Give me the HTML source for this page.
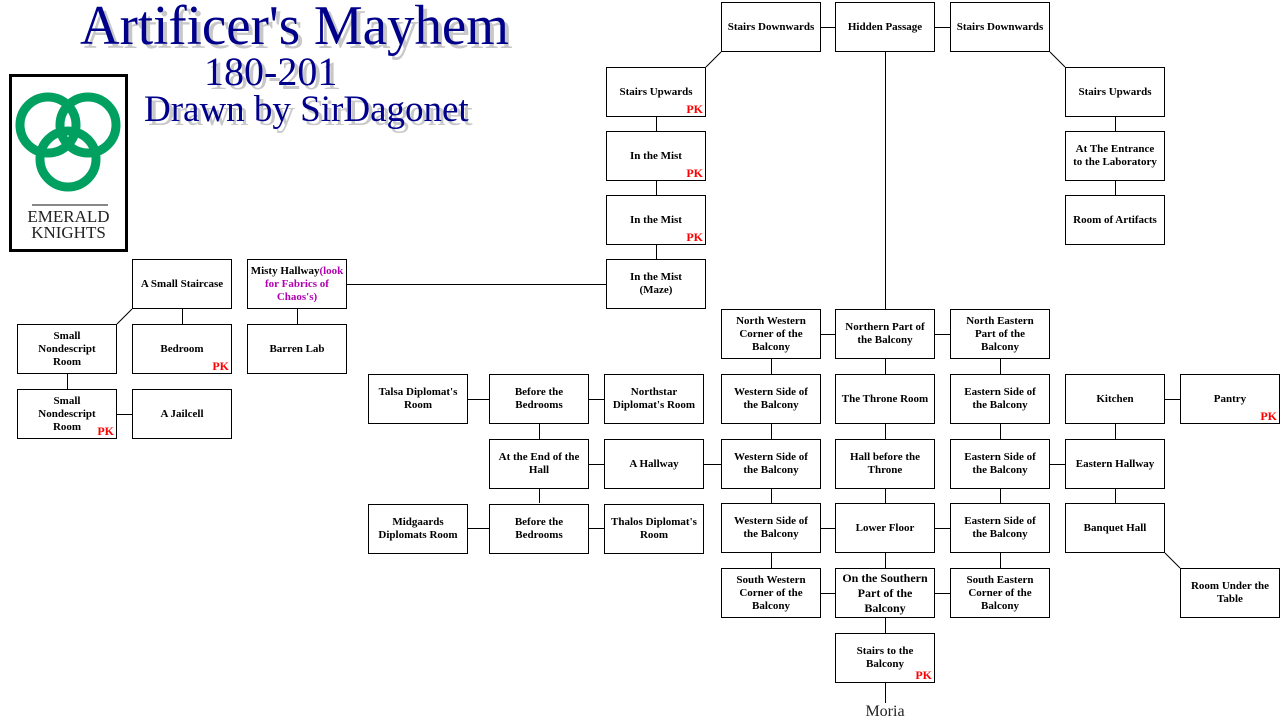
<!DOCTYPE html>
<html><head><meta charset="utf-8"><style>
body{margin:0;width:1284px;height:722px;background:#fff;position:relative;overflow:hidden;font-family:"Liberation Serif",serif}
.b{position:absolute;width:100px;height:50px;box-sizing:border-box;border:1px solid #000;background:#fff;display:flex;align-items:center;justify-content:center;text-align:center;font-weight:bold;font-size:11px;line-height:13px;padding:0 7px}
.b>span.c{display:block}
.pk{position:absolute;right:2px;bottom:0;color:#f00;font-size:12px;line-height:13px}
.t{position:absolute;color:#00008b;white-space:nowrap;text-shadow:4px 4px 0 #c8c8c8}
svg{position:absolute;left:0;top:0}
</style></head><body>
<svg width="1284" height="722" stroke="#000" stroke-width="1" fill="none">
<path d="M821 27.5H835M935 27.5H950M721 52L706 67M1050 52L1065 67M885.5 52V309
M656.5 117V131M656.5 181V195M656.5 245V259M1115.5 117V131M1115.5 181V195
M347 284.5H606M182.5 309V324M132 309L117 324M297.5 309V324M67.5 374V389M117 414.5H132
M821 334.5H835M935 334.5H950
M771.5 359V374M771.5 424V439M771.5 488V503M771.5 553V568
M885.5 359V374M885.5 424V439M885.5 488V503M885.5 553V568M885.5 618V633M885.5 683V703
M1000.5 359V374M1000.5 424V439M1000.5 488V503M1000.5 553V568
M468 399.5H489M589 399.5H604M1165 399.5H1180M1115.5 424V439M1115.5 488V503
M539.5 424V439M539.5 488V503M589 464.5H604M704 464.5H721M1050 464.5H1065
M468 528.5H489M589 528.5H604M821 528.5H835M935 528.5H950
M821 593.5H835M935 593.5H950M1165 553L1180 568"/>
</svg>
<div class="t" style="left:80px;top:-6px;font-size:56px;transform:scaleX(0.98);transform-origin:left">Artificer's Mayhem</div>
<div class="t" style="left:204px;top:48px;font-size:40px">180-201</div>
<div class="t" style="left:144px;top:88px;font-size:37px">Drawn by SirDagonet</div>
<div style="position:absolute;left:9px;top:74px;width:119px;height:178px;box-sizing:border-box;border:3px solid #000;background:#fff">
<svg width="113" height="172" style="left:0;top:0">
<g stroke="#00a060" stroke-width="9" fill="none">
<circle cx="36" cy="48" r="28"/><circle cx="76" cy="48" r="28"/><circle cx="56" cy="82" r="28"/></g>
<line x1="20" y1="128" x2="96" y2="128" stroke="#888" stroke-width="2"/>
</svg>
<div style="position:absolute;left:0;width:113px;top:132px;text-align:center;font-size:17px;line-height:16px;color:#222">EMERALD<br>KNIGHTS</div>
</div>
<div class="b" style="left:721px;top:2px;padding:0 1px">Stairs&nbsp;Downwards</div>
<div class="b" style="left:835px;top:2px">Hidden Passage</div>
<div class="b" style="left:950px;top:2px;padding:0 1px">Stairs&nbsp;Downwards</div>
<div class="b" style="left:606px;top:67px">Stairs Upwards<span class="pk">PK</span></div>
<div class="b" style="left:606px;top:131px">In the Mist<span class="pk">PK</span></div>
<div class="b" style="left:606px;top:195px">In the Mist<span class="pk">PK</span></div>
<div class="b" style="left:606px;top:259px">In the Mist<br>(Maze)</div>
<div class="b" style="left:1065px;top:67px">Stairs Upwards</div>
<div class="b" style="left:1065px;top:131px">At The Entrance to the Laboratory</div>
<div class="b" style="left:1065px;top:195px">Room of Artifacts</div>
<div class="b" style="left:132px;top:259px">A Small Staircase</div>
<div class="b" style="left:247px;top:259px;padding:0 1px"><span class="c">Misty Hallway<span style="color:#b000b0">(look for Fabrics of Chaos's)</span></span></div>
<div class="b" style="left:17px;top:324px">Small Nondescript Room</div>
<div class="b" style="left:132px;top:324px">Bedroom<span class="pk">PK</span></div>
<div class="b" style="left:247px;top:324px">Barren Lab</div>
<div class="b" style="left:17px;top:389px">Small Nondescript Room<span class="pk">PK</span></div>
<div class="b" style="left:132px;top:389px">A Jailcell</div>
<div class="b" style="left:721px;top:309px">North Western Corner of the Balcony</div>
<div class="b" style="left:835px;top:309px">Northern Part of the Balcony</div>
<div class="b" style="left:950px;top:309px">North Eastern Part of the Balcony</div>
<div class="b" style="left:368px;top:374px;padding:0 2px">Talsa Diplomat's Room</div>
<div class="b" style="left:489px;top:374px">Before the Bedrooms</div>
<div class="b" style="left:604px;top:374px;padding:0 2px">Northstar Diplomat's Room</div>
<div class="b" style="left:721px;top:374px">Western Side of the Balcony</div>
<div class="b" style="left:835px;top:374px;padding:0 2px">The Throne Room</div>
<div class="b" style="left:950px;top:374px">Eastern Side of the Balcony</div>
<div class="b" style="left:1065px;top:374px">Kitchen</div>
<div class="b" style="left:1180px;top:374px">Pantry<span class="pk">PK</span></div>
<div class="b" style="left:489px;top:439px;padding:0 2px">At the End of the Hall</div>
<div class="b" style="left:604px;top:439px">A Hallway</div>
<div class="b" style="left:721px;top:439px">Western Side of the Balcony</div>
<div class="b" style="left:835px;top:439px">Hall before the Throne</div>
<div class="b" style="left:950px;top:439px">Eastern Side of the Balcony</div>
<div class="b" style="left:1065px;top:439px">Eastern Hallway</div>
<div class="b" style="left:368px;top:504px;padding:0 2px">Midgaards Diplomats Room</div>
<div class="b" style="left:489px;top:504px">Before the Bedrooms</div>
<div class="b" style="left:604px;top:504px;padding:0 2px">Thalos Diplomat's Room</div>
<div class="b" style="left:721px;top:503px">Western Side of the Balcony</div>
<div class="b" style="left:835px;top:503px">Lower Floor</div>
<div class="b" style="left:950px;top:503px">Eastern Side of the Balcony</div>
<div class="b" style="left:1065px;top:503px">Banquet Hall</div>
<div class="b" style="left:721px;top:568px">South Western Corner of the Balcony</div>
<div class="b" style="left:835px;top:568px;font-size:12px;line-height:15px;padding:0 2px">On the Southern Part of the Balcony</div>
<div class="b" style="left:950px;top:568px">South Eastern Corner of the Balcony</div>
<div class="b" style="left:1180px;top:568px">Room Under the Table</div>
<div class="b" style="left:835px;top:633px">Stairs to the Balcony<span class="pk">PK</span></div>
<div style="position:absolute;left:835px;width:100px;top:702px;text-align:center;font-size:16px;line-height:20px;color:#222">Moria</div>
</body></html>
